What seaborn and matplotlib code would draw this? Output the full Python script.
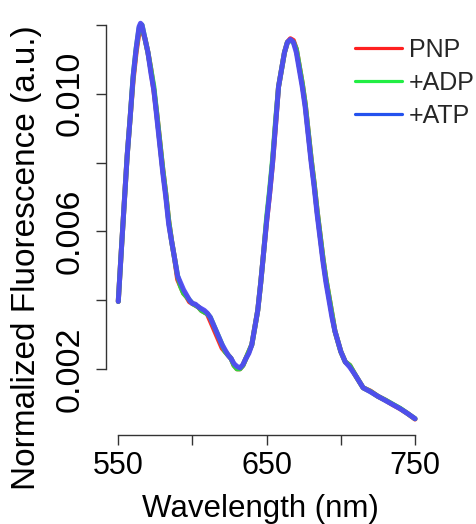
import numpy as np
import pandas as pd
import matplotlib
matplotlib.use("Agg")
import matplotlib.pyplot as plt
from matplotlib.lines import Line2D
import seaborn as sns

wavelength = [550, 552, 554, 556, 558, 560, 562, 564, 565, 566, 568, 570, 572, 574, 576, 578,
              580, 582, 584, 586, 588, 590, 592, 594, 596, 598, 600, 602, 604, 606, 608, 610,
              612, 614, 616, 618, 620, 622, 624, 626, 628, 630, 632, 634, 636, 638, 640, 642,
              644, 646, 648, 650, 652, 654, 656, 658, 660, 662, 664, 666, 668, 670, 672, 674,
              676, 678, 680, 682, 684, 686, 688, 690, 692, 694, 696, 698, 700, 703, 706, 710,
              715, 720, 725, 730, 735, 740, 745, 750]

pnp = [0.00396, 0.0054, 0.0068, 0.0082, 0.0093, 0.0104, 0.0112, 0.0118, 0.0119, 0.01185, 0.0116, 0.0112, 0.0107, 0.0101, 0.0094, 0.0086,
       0.0078, 0.0071, 0.0063, 0.0057, 0.0052, 0.0046, 0.0044, 0.0042, 0.0041, 0.00395, 0.0039, 0.00385, 0.0038, 0.0037, 0.00365, 0.0036,
       0.0034, 0.0032, 0.0030, 0.0028, 0.0026, 0.0025, 0.0024, 0.0023, 0.0021, 0.0020, 0.0020, 0.0021, 0.0023, 0.0025, 0.0027, 0.0032,
       0.0037, 0.0045, 0.0054, 0.0063, 0.0071, 0.0080, 0.0091, 0.0102, 0.0107, 0.0112, 0.0115, 0.0116, 0.01155, 0.0113, 0.0108, 0.0103,
       0.0097, 0.0089, 0.0081, 0.0074, 0.0066, 0.0059, 0.0052, 0.0046, 0.0041, 0.0036, 0.0031, 0.0028, 0.0025, 0.0022, 0.0021, 0.0018,
       0.00145, 0.00135, 0.0012, 0.00109, 0.00096, 0.00084, 0.0007, 0.00054]

adp = [0.00396, 0.0054, 0.0068, 0.0082, 0.0093, 0.0105, 0.0113, 0.0119, 0.0120, 0.0120, 0.0116, 0.0112, 0.0107, 0.0102, 0.0094, 0.0086,
       0.0078, 0.0071, 0.0063, 0.0057, 0.0052, 0.0047, 0.0044, 0.0042, 0.0041, 0.0040, 0.0039, 0.00385, 0.0038, 0.0037, 0.00365, 0.0036,
       0.0035, 0.0033, 0.0031, 0.0029, 0.0027, 0.0025, 0.0024, 0.0023, 0.0021, 0.0020, 0.0020, 0.0021, 0.0023, 0.0025, 0.0027, 0.0032,
       0.0037, 0.0045, 0.0054, 0.0064, 0.0072, 0.0081, 0.0092, 0.0102, 0.0107, 0.0112, 0.0115, 0.01155, 0.0115, 0.0113, 0.0108, 0.0103,
       0.0097, 0.0089, 0.0081, 0.0074, 0.0066, 0.0059, 0.0052, 0.0046, 0.0041, 0.0036, 0.0031, 0.0028, 0.0025, 0.0022, 0.0021, 0.0018,
       0.00145, 0.00134, 0.0012, 0.00109, 0.00097, 0.00085, 0.0007, 0.00055]

atp = [0.00396, 0.0054, 0.0068, 0.0082, 0.0093, 0.0105, 0.0113, 0.01195, 0.01205, 0.0120, 0.0116, 0.0112, 0.0106, 0.0101, 0.0093, 0.0085,
       0.0077, 0.0070, 0.0062, 0.0057, 0.0052, 0.0047, 0.0045, 0.0043, 0.00415, 0.0040, 0.0039, 0.00388, 0.0038, 0.00375, 0.0037, 0.00362,
       0.0035, 0.0033, 0.0031, 0.0029, 0.0027, 0.00255, 0.0024, 0.0023, 0.00215, 0.00207, 0.00203, 0.00212, 0.0023, 0.00245, 0.0027, 0.0032,
       0.0037, 0.0045, 0.0054, 0.0063, 0.0071, 0.0080, 0.0091, 0.0102, 0.0107, 0.0112, 0.0115, 0.01158, 0.0115, 0.0112, 0.0107, 0.0102,
       0.0096, 0.0088, 0.0080, 0.0073, 0.0065, 0.0058, 0.0051, 0.0045, 0.0040, 0.0035, 0.0031, 0.0028, 0.0025, 0.0022, 0.00205, 0.0018,
       0.00145, 0.00133, 0.0012, 0.00108, 0.00096, 0.00084, 0.0007, 0.00055]

series = ["PNP", "+ADP", "+ATP"]
line_colors = {"PNP": "#FF2020", "+ADP": "#22E040", "+ATP": "#5048F5"}
legend_colors = {"PNP": "#FF2020", "+ADP": "#22EE44", "+ATP": "#2452EE"}

x_ticks = [550, 600, 650, 700, 750]
x_ticklabels = ["550", "", "650", "", "750"]
y_ticks = [0.002, 0.004, 0.006, 0.008, 0.010, 0.012]
y_ticklabels = ["0.002", "", "0.006", "", "0.010", ""]

df = pd.DataFrame({
    "Wavelength": wavelength * 3,
    "Fluorescence": pnp + adp + atp,
    "Condition": ["PNP"] * len(wavelength) + ["+ADP"] * len(wavelength) + ["+ATP"] * len(wavelength),
})

sns.set_theme(style="ticks")
plt.rcParams["font.family"] = ["Liberation Sans", "DejaVu Sans"]

W, H = 477, 524
fig = plt.figure(figsize=(W / 100, H / 100), dpi=100)
ax = fig.add_axes([106.4 / W, 1 - 434.5 / H, (426.9 - 106.4) / W, (434.5 - 7.8) / H])

sns.lineplot(data=df, x="Wavelength", y="Fluorescence", hue="Condition",
             hue_order=series, palette=line_colors, sort=False, estimator=None,
             linewidth=3.6, alpha=0.95, legend=False, ax=ax)
for ln in ax.get_lines():
    ln.set_solid_joinstyle("round")
    ln.set_solid_capstyle("round")

ax.set_xlim(542, 758)
ax.set_ylim(0.00009, 0.0125)
for s in ["top", "right"]:
    ax.spines[s].set_visible(False)
ax.spines["left"].set_bounds(0.002, 0.012)
ax.spines["bottom"].set_bounds(550, 750)
for s in ["left", "bottom"]:
    ax.spines[s].set_color("#333333")
    ax.spines[s].set_linewidth(1.0)

ax.set_xticks(x_ticks)
ax.set_xticklabels(x_ticklabels)
ax.set_yticks(y_ticks)
ax.set_yticklabels(y_ticklabels)
ax.tick_params(axis="both", direction="out", length=7, width=1.0, color="#333333",
               labelcolor="black")
ax.tick_params(axis="x", pad=5, labelsize=22)
ax.tick_params(axis="y", pad=8, labelsize=24.5)
for lab in ax.get_yticklabels():
    lab.set_rotation(90)
    lab.set_va("center")
ax.set_xlabel("")
ax.set_ylabel("")

fig.text(260 / W, 1 - 516.5 / H, "Wavelength (nm)", ha="center", va="baseline",
         fontsize=22.5, color="black")
fig.text(27 / W, 1 - 258 / H, "Normalized Fluorescence (a.u.)", ha="center", va="center",
         rotation=90, fontsize=24, color="black")

handles = [Line2D([0], [0], color=legend_colors[s], lw=2.3) for s in series]
ax.legend(handles, series, loc="upper left", bbox_to_anchor=(355 / W, 1 - 38 / H),
          bbox_transform=fig.transFigure, frameon=False, fontsize=18,
          handlelength=1.88, handletextpad=0.28, labelspacing=0.36,
          borderpad=0, borderaxespad=0)

fig.savefig("out.png", dpi=100)
